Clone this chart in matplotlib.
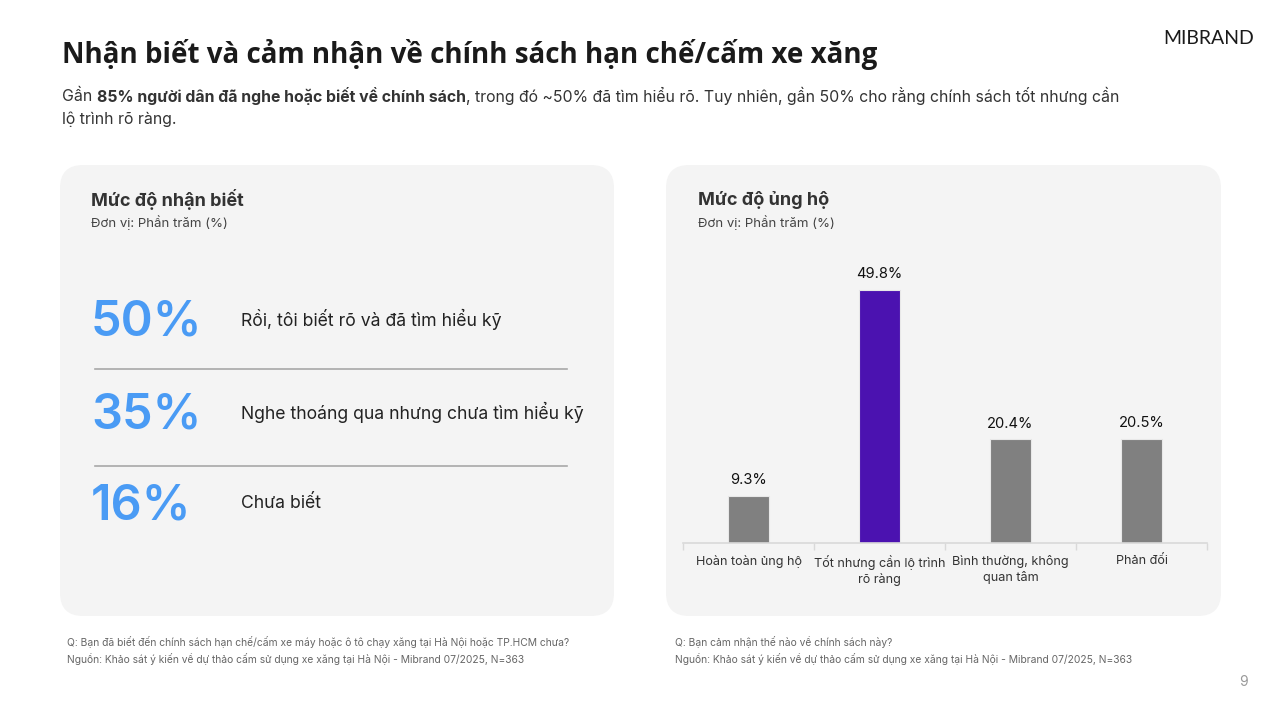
import matplotlib
matplotlib.use("Agg")
import matplotlib.pyplot as plt
from matplotlib.patches import FancyBboxPatch
from matplotlib.lines import Line2D

# ---------------- data ----------------
title = "Nhận biết và cảm nhận về chính sách hạn chế/cấm xe xăng"
subtitle_parts = [("Gần ", False), ("85% người dân đã nghe hoặc biết về chính sách", True),
                  (", trong đó ~50% đã tìm hiểu rõ. Tuy nhiên, gần 50% cho rằng chính sách tốt nhưng cần", False)]
subtitle_line2 = "lộ trình rõ ràng."

left_title = "Mức độ nhận biết"
unit_text = "Đơn vị: Phần trăm (%)"
aware_values = ["50%", "35%", "16%"]
aware_labels = ["Rồi, tôi biết rõ và đã tìm hiểu kỹ",
                "Nghe thoáng qua nhưng chưa tìm hiểu kỹ",
                "Chưa biết"]

right_title = "Mức độ ủng hộ"
support_categories = ["Hoàn toàn ủng hộ", "Tốt nhưng cần lộ trình\nrõ ràng",
                      "Bình thường, không\nquan tâm", "Phản đối"]
support_values = [9.3, 49.8, 20.4, 20.5]
highlight_index = 1

note_left = ["Q: Bạn đã biết đến chính sách hạn chế/cấm xe máy hoặc ô tô chạy xăng tại Hà Nội hoặc TP.HCM chưa?",
             "Nguồn: Khảo sát ý kiến về dự thảo cấm sử dụng xe xăng tại Hà Nội - Mibrand 07/2025, N=363"]
note_right = ["Q: Bạn cảm nhận thế nào về chính sách này?",
              "Nguồn: Khảo sát ý kiến về dự thảo cấm sử dụng xe xăng tại Hà Nội - Mibrand 07/2025, N=363"]
page_number = "9"
logo = "MIBRAND"

# ---------------- figure ----------------
W, H = 1280, 718
fig = plt.figure(figsize=(W / 100, H / 100), dpi=100)
fig.patch.set_facecolor("white")
FONT = ["Inter", "DejaVu Sans"]
DARK = "#2b2b2b"


def fx(x):
    return x / W


def fy(y):
    return 1 - y / H


def txt(x, y, s, **kw):
    kw.setdefault("family", FONT)
    kw.setdefault("color", DARK)
    kw.setdefault("va", "center")
    kw.setdefault("zorder", 3)
    return fig.text(fx(x), fy(y), s, **kw)


# title
txt(62, 55, title, fontsize=20, fontweight="bold", family=["Open Sans", "DejaVu Sans"],
    color="#1a1a1a")
# logo
txt(1209, 39, logo, fontsize=14, fontweight="normal", family=["Lato", "DejaVu Sans"],
    color="#1a1a1a", ha="center")

# subtitle with mixed weights
renderer = fig.canvas.get_renderer()
x = 62
for s, bold in subtitle_parts:
    t = txt(x, 96, s, fontsize=11.4, fontweight="bold" if bold else "normal", color="#333333")
    bb = t.get_window_extent(renderer=renderer)
    x += bb.width
txt(62, 119, subtitle_line2, fontsize=11.4, color="#333333")

# panels
for (x0, x1) in [(60, 614), (666, 1221)]:
    p = FancyBboxPatch((fx(x0), fy(616)), fx(x1 - x0), (616 - 165) / H,
                       boxstyle="round,pad=0,rounding_size=0.018",
                       transform=fig.transFigure, facecolor="#f4f4f4", edgecolor="none",
                       mutation_aspect=W / H, zorder=0)
    fig.patches.append(p)

# left panel
txt(91, 200, left_title, fontsize=13, fontweight="bold", color="#333333")
txt(91, 223, unit_text, fontsize=9.5, color="#444444")
rows_y = [322, 415, 507]
for i, (v, lab) in enumerate(zip(aware_values, aware_labels)):
    txt(91, rows_y[i], v, fontsize=35, fontweight="semibold", color="#4a9bf4")
    txt(241, rows_y[i] - 3, lab, fontsize=12.7, color="#222222")
for y in [369, 466]:
    fig.add_artist(Line2D([fx(95), fx(567)], [fy(y), fy(y)], transform=fig.transFigure,
                          color="#a8a8a8", lw=1.2, zorder=2))

# right panel
txt(698, 200, right_title, fontsize=13, fontweight="bold", color="#333333")
txt(698, 223, unit_text, fontsize=9.5, color="#444444")

ax = fig.add_axes([fx(683), fy(543), fx(1207 - 683), (543 - 240) / H])
ax.set_zorder(5)
ax.set_facecolor("none")
xs = list(range(len(support_values)))
colors = ["#4b12b0" if i == highlight_index else "#808080" for i in xs]
bars = ax.bar(xs, support_values, width=0.31, color=colors, edgecolor="#e8e8e8", linewidth=0.8)
ax.set_xlim(-0.5, len(xs) - 0.5)
ax.set_ylim(0, 59.6)
for b, v in zip(bars, support_values):
    ax.annotate(f"{v:.1f}%", (b.get_x() + b.get_width() / 2, v), xytext=(0, 6),
                textcoords="offset points", ha="center", va="bottom", fontsize=10.6,
                family=FONT, color="#111111")
for s in ["top", "right", "left"]:
    ax.spines[s].set_visible(False)
ax.spines["bottom"].set_color("#d9d9d9")
ax.spines["bottom"].set_linewidth(1.2)
ax.set_yticks([])
ax.set_xticks([i - 0.5 for i in range(len(xs) + 1)], minor=False)
ax.set_xticklabels([])
ax.tick_params(axis="x", length=5, color="#d9d9d9", width=1)
for i, c in enumerate(support_categories):
    ax.annotate(c, (i, 0), xytext=(0, -9), textcoords="offset points",
                ha="center", va="top", fontsize=9.1, family=FONT, color="#333333",
                linespacing=1.3)

# footnotes
for i, s in enumerate(note_left):
    txt(67, 642 + i * 17, s, fontsize=7.4, color="#666666")
for i, s in enumerate(note_right):
    txt(675, 642 + i * 17, s, fontsize=7.4, color="#666666")
txt(1243, 682, page_number, fontsize=10, color="#999999", ha="center")

fig.savefig("out.png", dpi=100, facecolor="white")
